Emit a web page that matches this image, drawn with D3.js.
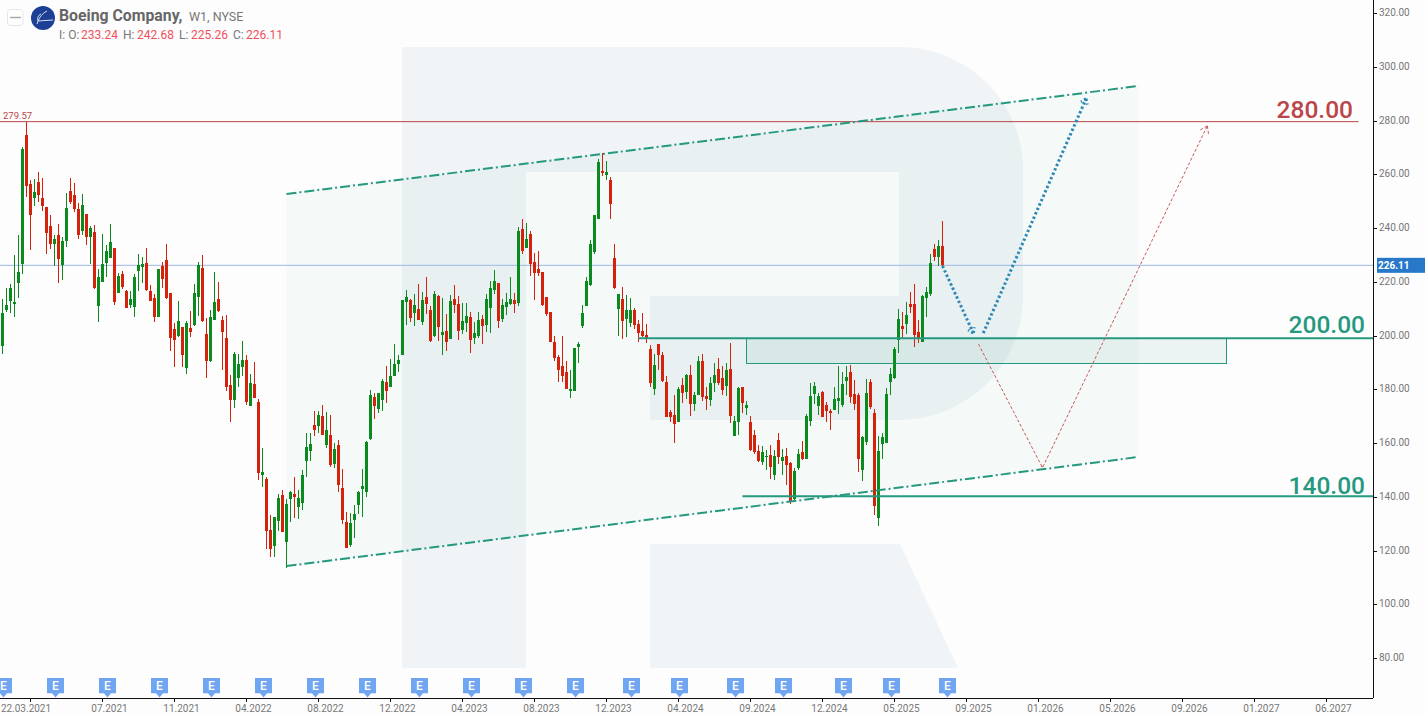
<!DOCTYPE html>
<html><head><meta charset="utf-8">
<script src="https://cdn.jsdelivr.net/npm/d3@7"></script>
<style>html,body{margin:0;padding:0;background:#fdfdfd;overflow:hidden}svg{display:block}text{font-family:Roboto,sans-serif}</style>
</head><body><svg id="c" width="1425" height="717"></svg>
<script>
const opens=[196.1,209.5,212.9,211.7,219.5,226.6,274.6,256.4,251.2,257.1,
251.2,247.8,240.8,234.1,237.4,226.2,235.2,253.8,252.3,247.1,
238.9,245.2,236.7,238.5,211,219.9,227,228.9,232.6,215.8,
222.9,216.6,211.4,210.6,224,225.5,227,216.6,214,206.9,
225.8,228.1,215.8,202.4,199.8,203.1,187.9,202.8,203.9,214.3,
225.1,200.5,190.5,205.7,213.5,205.7,199,181.5,176,184.2,
188.2,190.8,173.7,181.9,175.2,148.1,146.6,127.6,121.6,130.9,
140.6,123.1,139.1,141,136.2,137.6,153.3,157,166.7,166.3,
170,159.2,162.9,152.2,159.2,143.2,130.6,122,131.3,136.9,
142.9,141.7,161.5,177.1,172.6,176,182.7,180.8,184.9,189.4,
192.7,212.4,213.2,208.3,209.8,205,214.3,209.4,199.8,214.7,
200.1,201.6,198.7,213.5,211.7,202,204.6,206.8,199,199.8,
206.1,203.9,210.2,216.9,219.5,206.1,210.6,211.7,213.2,212,
239.6,232.5,237.7,227.3,224.7,223.6,214.3,208.7,197.5,192,
188.6,186.4,179.3,179.3,195.7,203.5,210.9,218.7,231,243.3,
261.2,259.7,257.8,228.8,209.8,213.5,206.1,204.6,209.4,204.3,
201.7,200.2,195,180.1,196.8,192.7,182.7,171.5,170.4,167.8,
181.6,179,185.3,174.5,177.9,190.5,177.5,176,182.3,187.5,
184.2,181.2,187.5,162.6,167.8,180.8,173,167.8,163,157,
152.9,154.8,155.5,148.1,161.1,153.3,155.2,152.5,139.2,150.7,
156.6,154,168.2,178.2,173.8,179,174.1,171.9,172.3,175.6,
174.1,183.1,186.4,178.2,177.9,149.9,160.4,182.7,171.2,132.1,
159.6,160,182.7,184.2,198.4,203.6,204.3,211.8,211.8,201.3,
197.6,214,215.5,232.2,229.2,233.24];
const closes=[208.4,211.4,217.7,212.5,223.6,269.4,255.6,244.9,253.4,252.3,
248.2,238.2,234.1,235.9,228.5,235.2,247.5,249.7,247.1,237.4,
248.6,236.7,240,217.7,221.8,226.6,231.5,234.8,212.5,222.2,
218.1,210.2,213.6,221.8,226.2,226.6,216.9,212.9,206.9,224.8,
221,213.9,199,198.3,205.4,192.7,204.6,201.3,215.8,226.2,
205.4,190.5,206.8,212.4,209.1,201.3,180.8,176,193.1,189.4,
190.8,175.2,182.3,176.7,148.8,149.2,127.2,120.5,132.4,139.5,
126.8,137.3,141.7,139.9,139.5,148.1,158.5,159.6,164.8,170.4,
162.9,164.8,151.8,157.7,144.3,131.3,120.9,130.2,133.5,141.7,
144,160.3,177.8,173.7,178.6,183,179.3,184.9,189.4,190.8,
213.2,214.3,206.5,211.3,205.7,213.2,211.7,197.9,215.4,203.1,
201.3,197.5,212.8,211.3,201.6,205.4,207.2,198.3,200.9,205.7,
203.5,213.5,217.6,220.2,205.4,211.3,212.4,213.5,211.7,238.8,
231.4,235.9,226.6,223.2,223.2,211.3,208,197.5,191.6,187.1,
184.9,180.1,180.1,195.3,196.8,208.3,220.2,234,244.8,264.5,
260.4,260.8,248.9,217.6,215.4,205.4,209.4,209.4,203.9,200.9,
199.8,198.7,182.3,189,192.7,183.1,169.7,169.7,167.1,180.1,
178.6,185.3,174.5,177.9,190.5,177.1,176.4,182.3,185.3,182.3,
179.7,187.2,170,168.2,180.5,174.9,174.1,157.4,156.6,153.3,
156.6,155.2,151.1,155.2,154.8,154.8,151.8,138.4,149.6,155.9,
154,170,177.5,181.2,177.5,169.7,171.9,171.2,176.4,176.7,
181.9,184.5,177.1,174.5,154,162.2,178.6,173.4,136.5,157,
162.2,178.2,185.7,195,206.2,202.5,207.7,210.6,200.2,199.1,
214.7,216.2,227,229.2,233.3,226.11];
const highs=[213.6,217.7,219.2,230,237.4,270.2,279.57,257.9,258.2,260.9,
258.6,247.8,244.9,237.4,241.5,236.7,253,258.6,256.8,249.3,
252.7,245.2,240.8,241.1,224.8,237.8,233.7,241.5,232.6,223.3,
224,216.9,216.6,222.9,230.3,229.2,232.6,218.8,215.5,224.8,
227.3,234,215.8,204.6,212.8,203.1,205.4,209.1,219.1,227.3,
229.9,206.5,209.5,223.6,219.9,207.2,207.6,185.3,193.8,193.1,
197.9,192.7,185.6,190.1,176.3,158.1,147.3,133.2,132.4,141,
142.5,139.1,142.1,147.3,142.5,149.9,163.7,163.7,171.9,171.9,
174.1,171.5,170.4,160,161.1,150.3,134.3,133.9,136.9,142.1,
150.3,160.7,179.7,178.6,178.6,183.8,188.6,191.2,196.8,192.7,
213.2,216.9,213.5,215.4,219.1,216.1,221.7,210.9,216.5,215,
213.9,208,215,218.7,214.7,212,212,208.7,205,208.7,
207.6,215.4,220.2,224.3,219.5,213.5,215.8,221.7,215.8,240.3,
243.3,241.8,238.8,230.7,231.4,223.6,214.3,208.7,199.8,192.7,
199.8,190.5,187.1,195.3,197.5,211.3,221.7,235.5,244.8,265.6,
267.9,264.9,258.9,234,215.4,218,215,213.9,210.2,205.7,
208.4,204.3,196.5,193.1,196.8,193.9,184.9,172.3,177.9,180.8,
184.2,185.7,189,179,192.4,193.1,180.8,184.5,189.8,191.6,
188.6,189.8,197.2,170,180.8,180.8,175.6,170,164.8,159.2,
158.9,157.4,159.2,157.4,163.7,157.8,158.1,152.9,150.7,157.8,
160.7,170.8,182.3,182.7,178.6,179.3,175.2,172.6,180.8,188.6,
186.4,188.6,189,183.4,178.6,162.6,183.8,183.8,172.6,162.6,
163.7,180.5,187.9,195.7,209.9,208.8,212.5,216.2,219.2,205.8,
215.1,218.1,230.4,234.1,235.6,242.68];
const lows=[193.1,208.9,208.5,207,214.1,222.9,251.7,231.8,248.2,249.7,
246.3,230.3,232.2,225.9,219.5,220.7,232.9,248.9,246,235.9,
237.4,233.7,226.6,217.3,205,219.9,221.8,228.9,211.4,215.8,
217.3,210.2,210.2,206.9,216.6,219.5,216.6,212.9,205,206.9,
217.6,213.5,194.2,188.2,199.4,188.2,185.6,199.4,203.5,207.2,
205,184.2,190.1,205.7,208.7,187.1,179.3,167.8,173,180.8,
184.9,174.1,173.7,176.7,146.2,143.6,120.5,117.5,117.5,127.2,
126.8,113.5,130.6,132.1,131.7,135,147.3,153.3,162.6,163.7,
162.9,158.1,151,150.7,141.7,129.8,120.9,121.3,124.6,133.5,
132.4,139.9,161.1,168.9,171.1,171.9,174.8,180.8,184.9,186.4,
192.7,203.9,205,203.5,205.7,203.9,208,197.5,199.4,197.9,
192.7,194.2,198.7,208.3,198.3,200.5,201.3,193.4,196.8,199,
196.8,201.3,200.9,215.4,202.7,205,207.6,211.3,208.3,210.9,
230.3,232.5,222.1,213.2,222.1,210.9,207.2,197.5,190.5,182.7,
182.7,180.1,176.7,179.3,189.7,202.7,210.9,218.4,230.3,243.3,
259.3,257.8,243.3,217.3,199.8,198.7,199.4,203.1,202.4,197.5,
199.6,197.2,180.8,177.9,187.2,182.7,169.7,167.8,160,167.8,
174.9,176.4,170,171.9,177.9,175.6,172.3,173.8,179,181.6,
177.9,177.5,167.4,162.6,163,171.2,170.4,157,155.9,152.9,
151.8,149.9,146.6,146.2,152.2,148.1,144.4,137.3,138,149.9,
153.7,154,166.3,174.5,170.4,169.7,167.8,164.8,172.3,170.8,
173.4,177.9,174.9,172.3,149.2,145.9,159.2,172.6,133.2,129.1,
154,160,177.9,183.8,193.5,199.1,200.6,208.4,195.8,197.2,
197.6,206.9,214.7,227.8,225.9,225.26];
const priceTicks=[320,300,280,260,240,220,200,180,160,140,120,100,80];
const timeLabels=["22.03.2021","07.2021","11.2021","04.2022","08.2022","12.2022","04.2023","08.2023","12.2023","04.2024","09.2024","12.2024","05.2025","09.2025","01.2026","05.2026","09.2026","01.2027","06.2027"];
const timeLabelBars=[7,25,43,61,79,97,115,133,151,169,187,205,223,241,259,277,295,313,331];
const earningsBars=[0,13,26,39,52,65,78,91,104,117,130,143,157,169,183,195,210,222,236];
const channelUpper=[[71,252.65],[284,292.84]];
const channelLower=[[71,114.2],[284,154.8]];
const bluePath1=[[235,225.9],[242.7,200.9]];
const bluePath2=[[245.2,200.9],[270.9,288.1]];
const redPath1=[[244,196.8],[259.9,151.1]];
const redPath2=[[260.1,151.1],[301.2,278]];
const lastClose=226.11, peak=279.57;

const W=1425,H=717,axisX=1373,axisY=698;
const x=d3.scaleLinear().domain([0,1]).range([2.5,6.5]);
const y=d3.scaleLinear().domain([280,80]).range([120.5,658]);
const svg=d3.select("#c");
const GREEN="#0a8a1f",RED="#d4220d",TEAL="#24997f",DRED="#bb4548";
svg.append("rect").attr("width",W).attr("height",H).attr("fill","#fdfdfd");
// watermark
const wm=svg.append("g").attr("fill","#f0f4f6");
wm.append("path").attr("d","M402,47H900A123,123 0 0 1 1023,170V296A124,124 0 0 1 899,420H650V296H899V172H526V668H402Z");
wm.append("path").attr("d","M650,544H900L958,668H650Z");
// channel
const pt=p=>[x(p[0]),y(p[1])];
svg.append("path").attr("d",d3.line()([pt(channelUpper[0]),pt(channelUpper[1]),pt(channelLower[1]),pt(channelLower[0])])+"Z").attr("fill","rgba(30,140,110,0.035)");
// zone
svg.append("rect").attr("x",x(186)).attr("width",x(306)-x(186)).attr("y",y(199)).attr("height",y(189.4)-y(199))
 .attr("fill","rgba(30,140,110,0.08)").attr("stroke",TEAL).attr("stroke-width",1).attr("shape-rendering","crispEdges");
// reference lines
svg.append("line").attr("x1",0).attr("x2",x(339)).attr("y1",y(peak)).attr("y2",y(peak)).attr("stroke",DRED).attr("stroke-width",1);
svg.append("line").attr("x1",0).attr("x2",axisX).attr("y1",y(lastClose)).attr("y2",y(lastClose)).attr("stroke","#9cb9e2").attr("stroke-width",1);
// candles
const bars=d3.range(opens.length);
const g=svg.append("g").attr("shape-rendering","crispEdges");
g.selectAll("line").data(bars).join("line")
 .attr("x1",i=>x(i)).attr("x2",i=>x(i)).attr("y1",i=>y(highs[i])).attr("y2",i=>y(lows[i]))
 .attr("stroke",i=>closes[i]>=opens[i]?GREEN:RED).attr("stroke-width",1);
g.selectAll("rect").data(bars).join("rect")
 .attr("x",i=>x(i)-1.5).attr("width",3)
 .attr("y",i=>y(Math.max(opens[i],closes[i])))
 .attr("height",i=>Math.max(1,Math.abs(y(opens[i])-y(closes[i]))))
 .attr("fill",i=>closes[i]>=opens[i]?GREEN:RED);
// horizontal levels
svg.append("line").attr("x1",x(159)).attr("x2",axisX).attr("y1",y(199)).attr("y2",y(199)).attr("stroke",TEAL).attr("stroke-width",2);
svg.append("line").attr("x1",x(185)).attr("x2",axisX).attr("y1",y(140.2)).attr("y2",y(140.2)).attr("stroke",TEAL).attr("stroke-width",2);
// channel lines
[channelUpper,channelLower].forEach(c=>svg.append("path").attr("d",d3.line()(c.map(pt))).attr("fill","none")
 .attr("stroke",TEAL).attr("stroke-width",2).attr("stroke-dasharray","10,3,2,3"));
// forecast arrows
function arrow(seg,color,w,dash,len){
 const a=pt(seg[0]),b=pt(seg[1]);
 svg.append("path").attr("d",d3.line()([a,b])).attr("fill","none").attr("stroke",color).attr("stroke-width",w).attr("stroke-dasharray",dash);
 const t=Math.atan2(a[1]-b[1],a[0]-b[0]);
 [-0.6,0.6].forEach(s=>svg.append("line").attr("x1",b[0]).attr("y1",b[1])
  .attr("x2",b[0]+len*Math.cos(t+s)).attr("y2",b[1]+len*Math.sin(t+s))
  .attr("stroke",color).attr("stroke-width",w).attr("stroke-dasharray",dash));
}
arrow(bluePath1,"#2b88b5",3,"2.4,2.4",6);
arrow(bluePath2,"#2b88b5",3,"2.4,2.4",6);
arrow(redPath1,"#c9585b",1,"3,2",1);
arrow(redPath2,"#c9585b",1,"3,2",8);
// axes
const axes=svg.append("g").attr("shape-rendering","crispEdges");
axes.append("line").attr("x1",axisX+.5).attr("x2",axisX+.5).attr("y1",0).attr("y2",axisY).attr("stroke","#111");
axes.append("line").attr("x1",0).attr("x2",axisX).attr("y1",axisY+.5).attr("y2",axisY+.5).attr("stroke","#111");
axes.selectAll(".yt").data(priceTicks).join("line").attr("class","yt").attr("x1",axisX).attr("x2",axisX+4).attr("y1",d=>Math.round(y(d))).attr("y2",d=>Math.round(y(d))).attr("stroke","#111");
axes.selectAll(".xt").data(timeLabelBars).join("line").attr("class","xt").attr("x1",d=>x(d)).attr("x2",d=>x(d)).attr("y1",axisY).attr("y2",axisY+4).attr("stroke","#111");
svg.selectAll(".yl").data(priceTicks).join("text").attr("class","yl").attr("x",axisX+6).attr("y",d=>y(d)+3).attr("font-size",10).attr("fill","#777").text(d=>d3.format(".2f")(d));
svg.selectAll(".xl").data(timeLabels).join("text").attr("class","xl")
 .attr("x",(d,i)=>i==0?26:x(timeLabelBars[i])+7).attr("y",712).attr("text-anchor","middle").attr("font-size",10).attr("fill","#777").text(d=>d);
// last price tag
svg.append("rect").attr("x",1377).attr("y",y(lastClose)-7.5).attr("width",48).attr("height",15).attr("fill","#2878c9");
svg.append("text").attr("x",1378).attr("y",y(lastClose)+3.5).attr("font-size",10).attr("font-weight",700).attr("fill","#fff").text(d3.format(".2f")(lastClose));
// earnings markers
const em=svg.selectAll(".e").data(earningsBars).join("g").attr("class","e").attr("transform",d=>`translate(${x(d)+1},0)`);
em.append("path").attr("d","M-8.5,678H8.5V693.3H3.5L0,697.5L-3.5,693.3H-8.5Z").attr("fill","#70a5f1");
em.append("text").attr("y",690).attr("text-anchor","middle").attr("font-size",12).attr("font-weight",500).attr("fill","#fff").text("E");
// big labels
const big=(t,xp,p,c)=>svg.append("text").attr("x",xp).attr("y",y(p)).attr("text-anchor","end").attr("font-size",24.5).attr("font-weight",500).attr("fill",c).text(t);
big("280.00",1353,280.9,DRED);
big("200.00",1365,200.9,TEAL);
big("140.00",1365,141,TEAL);
svg.append("text").attr("x",3).attr("y",119).attr("font-size",9.5).attr("fill",DRED).text(d3.format(".2f")(peak));
// header
svg.append("rect").attr("x",7.5).attr("y",9.5).attr("width",15.5).attr("height",16).attr("rx",3).attr("fill","#fff").attr("stroke","#e6e6e6");
svg.append("line").attr("x1",10).attr("x2",21).attr("y1",17.5).attr("y2",17.5).attr("stroke","#aaa").attr("stroke-width",1.5);
svg.append("circle").attr("cx",43).attr("cy",18).attr("r",12).attr("fill","#1d4096");
svg.append("path").attr("d","M37,24C39,17 43,13 47,11M38,21L53,20M41,14C38,15 37,19 38,21").attr("fill","none").attr("stroke","#fff").attr("stroke-width",.8);
svg.append("text").attr("x",59).attr("y",20.5).attr("font-size",15.8).attr("font-weight",700).attr("fill","#666").text("Boeing Company,");
svg.append("text").attr("x",189).attr("y",20.5).attr("font-size",12.5).attr("fill","#777").text("W1,  NYSE");
const info=[["I: O:",59,"#777"],["233.24",81,"#f0505a"],["H:",123,"#777"],["242.68",137,"#f0505a"],["L:",179,"#777"],["225.26",191,"#f0505a"],["C:",233,"#777"],["226.11",246,"#f0505a"]];
svg.selectAll(".inf").data(info).join("text").attr("class","inf").attr("x",d=>d[1]).attr("y",38.5).attr("font-size",12).attr("fill",d=>d[2]).text(d=>d[0]);
</script></body></html>
